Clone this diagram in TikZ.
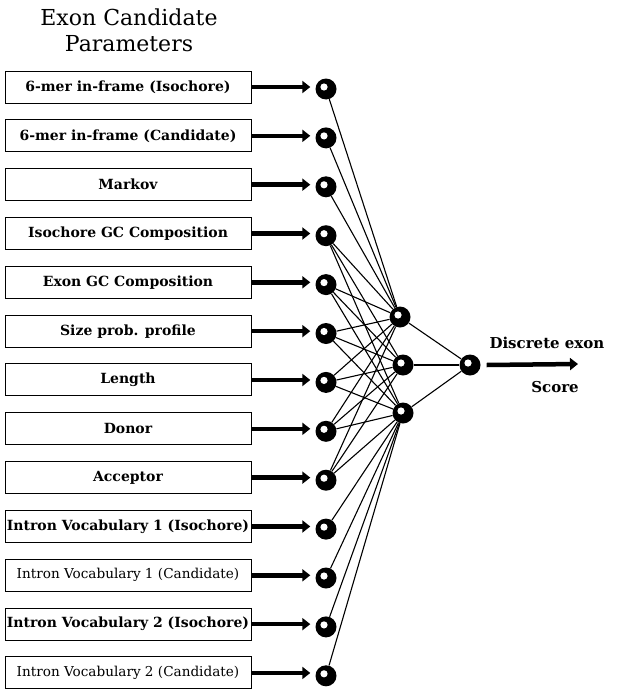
\documentclass[tikz,border=0pt]{standalone}
\usepackage{fontspec}
\setmainfont{DejaVu Serif}
\usetikzlibrary{arrows.meta}
\begin{document}
\begin{tikzpicture}[x=1pt,y=-1pt,
  param/.style={draw, line width=1pt, minimum width=246pt, minimum height=32pt, inner sep=0pt,
    font=\bfseries\fontsize{14}{14}\selectfont},
  small/.style={font=\fontsize{13.6}{14}\selectfont},
  unit/.style={circle, fill=black, minimum size=21pt, inner sep=0pt,
    path picture={\fill[white] ([xshift=-2pt,yshift=2pt]path picture bounding box.center) circle (3.6pt);}},
  feed/.style={line width=4.5pt, -{Triangle[length=8pt,width=12pt]}, shorten >=5pt},
  wire/.style={line width=1.1pt},
  title/.style={font=\fontsize{22}{22}\selectfont},
  caption/.style={font=\bfseries\fontsize{15}{15}\selectfont},
]
\useasboundingbox (0,0) rectangle (620,693);

% heading
\node[title] (t1) at (129,17) {Exon Candidate};
\node[title] (t2) at (129,44) {Parameters};

% input parameter boxes and their input units
\foreach \i/\lab/\st in {
  1/{6-mer in-frame (Isochore)}/{},
  2/{6-mer in-frame (Candidate)}/{},
  3/{Markov}/{},
  4/{Isochore GC Composition}/{},
  5/{Exon GC Composition}/{},
  6/{Size prob. profile}/{},
  7/{Length}/{},
  8/{Donor}/{},
  9/{Acceptor}/{},
  10/{Intron Vocabulary 1 (Isochore)}/{},
  11/{Intron Vocabulary 1 (Candidate)}/small,
  12/{Intron Vocabulary 2 (Isochore)}/{},
  13/{Intron Vocabulary 2 (Candidate)}/small}{
  \node[param,\st] (b\i) at (128,{87+48.83*(\i-1)}) {\lab};
  \node[unit] (i\i) at (326,{89+48.9*(\i-1)}) {};
  \draw[feed] (b\i.east) -- (b\i.east -| i\i.west);
}

% hidden and output units
\node[unit] (h1) at (400,317) {};
\node[unit] (h2) at (403,365) {};
\node[unit] (h3) at (403,413) {};
\node[unit] (o) at (470,365) {};

% weights
\foreach \i in {1,2,3} \draw[wire] (i\i) -- (h1);
\foreach \i in {4,...,9} {
  \draw[wire] (i\i) -- (h1);
  \draw[wire] (i\i) -- (h2);
  \draw[wire] (i\i) -- (h3);
}
\foreach \i in {10,...,13} \draw[wire] (i\i) -- (h3);
\foreach \j in {1,2,3} \draw[wire] (h\j) -- (o);

% output score
\coordinate (s) at (578,364);
\draw[feed, shorten >=0pt] (o.east) ++(6,0) -- (s);
\node[caption, anchor=west] (d) at (486,343) {Discrete exon};
\node[caption] (sc) at (555,387) {Score};
\end{tikzpicture}
\end{document}
